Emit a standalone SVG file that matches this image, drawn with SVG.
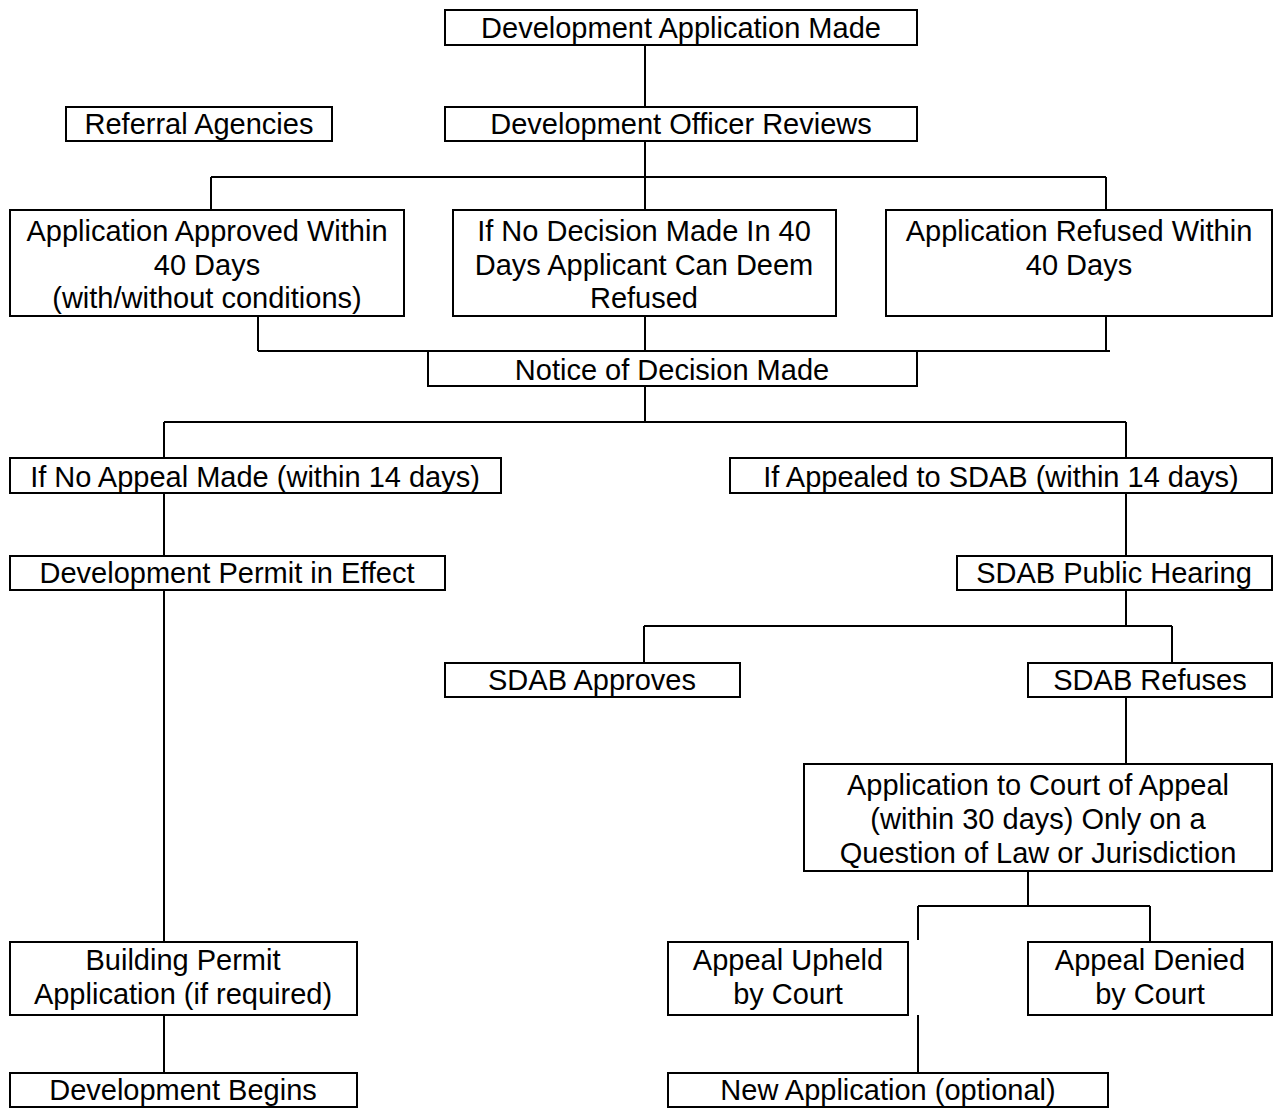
<svg xmlns="http://www.w3.org/2000/svg" width="1275" height="1109" viewBox="0 0 1275 1109">
<style>
.b{fill:#fff;stroke:#000;stroke-width:2}
.t{font-family:"Liberation Sans",Arial,sans-serif;font-size:29px;fill:#000;text-anchor:middle}
.c line{stroke:#000;stroke-width:2}
</style>
<rect width="1275" height="1109" fill="#fff"/>
<g class="c" id="connectors">
<line x1="645" y1="45" x2="645" y2="107"/>
<line x1="645" y1="141" x2="645" y2="210"/>
<line x1="211" y1="177" x2="1106" y2="177"/>
<line x1="211" y1="177" x2="211" y2="210"/>
<line x1="1106" y1="177" x2="1106" y2="210"/>
<line x1="258" y1="316" x2="258" y2="351"/>
<line x1="645" y1="316" x2="645" y2="351"/>
<line x1="1106" y1="316" x2="1106" y2="351"/>
<line x1="258" y1="351" x2="1110" y2="351"/>
<line x1="645" y1="386" x2="645" y2="422"/>
<line x1="164" y1="422" x2="1126" y2="422"/>
<line x1="164" y1="422" x2="164" y2="458"/>
<line x1="1126" y1="422" x2="1126" y2="458"/>
<line x1="164" y1="493" x2="164" y2="556"/>
<line x1="1126" y1="493" x2="1126" y2="556"/>
<line x1="164" y1="590" x2="164" y2="942"/>
<line x1="1126" y1="590" x2="1126" y2="626"/>
<line x1="644" y1="626" x2="1172" y2="626"/>
<line x1="644" y1="626" x2="644" y2="663"/>
<line x1="1172" y1="626" x2="1172" y2="663"/>
<line x1="1126" y1="697" x2="1126" y2="764"/>
<line x1="1028" y1="871" x2="1028" y2="906"/>
<line x1="918" y1="906" x2="1150" y2="906"/>
<line x1="918" y1="906" x2="918" y2="940"/>
<line x1="1150" y1="906" x2="1150" y2="942"/>
<line x1="918" y1="1015" x2="918" y2="1073"/>
<line x1="164" y1="1015" x2="164" y2="1073"/>
</g>
<g id="n1"><rect class="b" x="445" y="10" width="472" height="35"/><text class="t" x="681" y="38">Development Application Made</text></g>
<g id="n2"><rect class="b" x="66" y="107" width="266" height="34"/><text class="t" x="199" y="134">Referral Agencies</text></g>
<g id="n3"><rect class="b" x="445" y="107" width="472" height="34"/><text class="t" x="681" y="134">Development Officer Reviews</text></g>
<g id="n4"><rect class="b" x="10" y="210" width="394" height="106"/><text class="t" x="207" y="241">Application Approved Within</text><text class="t" x="207" y="275">40 Days</text><text class="t" x="207" y="308">(with/without conditions)</text></g>
<g id="n5"><rect class="b" x="453" y="210" width="383" height="106"/><text class="t" x="644" y="241">If No Decision Made In 40</text><text class="t" x="644" y="275">Days Applicant Can Deem</text><text class="t" x="644" y="308">Refused</text></g>
<g id="n6"><rect class="b" x="886" y="210" width="386" height="106"/><text class="t" x="1079" y="241">Application Refused Within</text><text class="t" x="1079" y="275">40 Days</text></g>
<g id="n7"><rect class="b" x="428" y="351" width="489" height="35"/><text class="t" x="672" y="380">Notice of Decision Made</text></g>
<g id="n8"><rect class="b" x="10" y="458" width="491" height="35"/><text class="t" x="255" y="487">If No Appeal Made (within 14 days)</text></g>
<g id="n9"><rect class="b" x="730" y="458" width="542" height="35"/><text class="t" x="1001" y="487">If Appealed to SDAB (within 14 days)</text></g>
<g id="n10"><rect class="b" x="10" y="556" width="435" height="34"/><text class="t" x="227" y="583">Development Permit in Effect</text></g>
<g id="n11"><rect class="b" x="957" y="556" width="315" height="34"/><text class="t" x="1114" y="583">SDAB Public Hearing</text></g>
<g id="n12"><rect class="b" x="445" y="663" width="295" height="34"/><text class="t" x="592" y="690">SDAB Approves</text></g>
<g id="n13"><rect class="b" x="1028" y="663" width="244" height="34"/><text class="t" x="1150" y="690">SDAB Refuses</text></g>
<g id="n14"><rect class="b" x="804" y="764" width="468" height="107"/><text class="t" x="1038" y="795">Application to Court of Appeal</text><text class="t" x="1038" y="829">(within 30 days) Only on a</text><text class="t" x="1038" y="863">Question of Law or Jurisdiction</text></g>
<g id="n15"><rect class="b" x="10" y="942" width="347" height="73"/><text class="t" x="183" y="970">Building Permit</text><text class="t" x="183" y="1004">Application (if required)</text></g>
<g id="n16"><rect class="b" x="668" y="942" width="240" height="73"/><text class="t" x="788" y="970">Appeal Upheld</text><text class="t" x="788" y="1004">by Court</text></g>
<g id="n17"><rect class="b" x="1028" y="942" width="244" height="73"/><text class="t" x="1150" y="970">Appeal Denied</text><text class="t" x="1150" y="1004">by Court</text></g>
<g id="n18"><rect class="b" x="10" y="1073" width="347" height="34"/><text class="t" x="183" y="1100">Development Begins</text></g>
<g id="n19"><rect class="b" x="668" y="1073" width="440" height="34"/><text class="t" x="888" y="1100">New Application (optional)</text></g>
</svg>
